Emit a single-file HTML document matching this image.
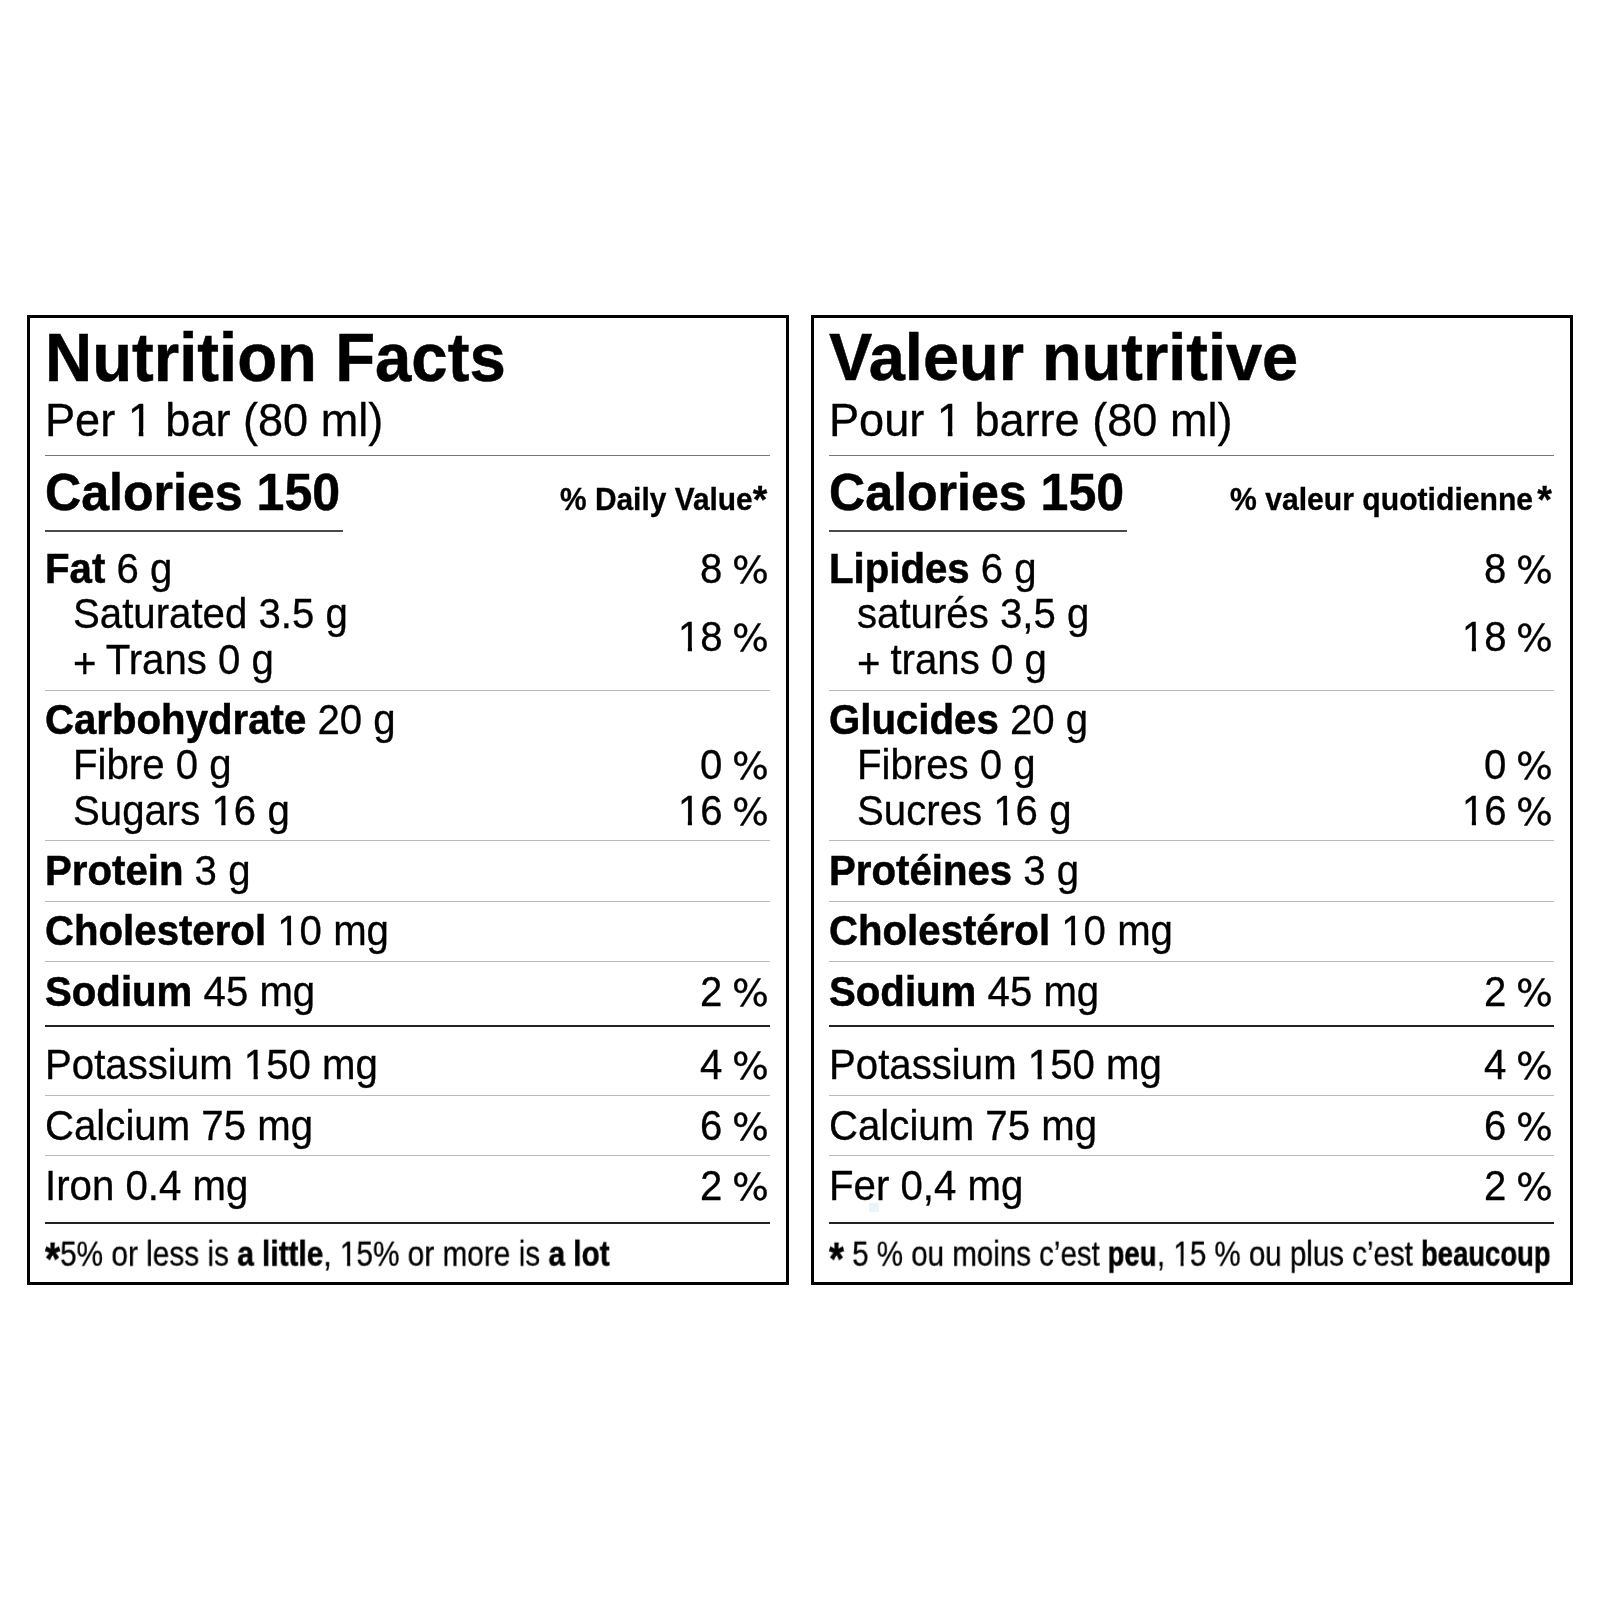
<!DOCTYPE html>
<html><head><meta charset="utf-8"><title>Nutrition Facts / Valeur nutritive</title>
<style>
html,body{margin:0;padding:0;background:#fff;}
body{width:1600px;height:1600px;position:relative;overflow:hidden;font-family:"Liberation Sans",Arial,Helvetica,sans-serif;color:#000;}
.box{position:absolute;box-sizing:border-box;border-style:solid;border-color:#000;}
.l{position:absolute;}
.t{position:absolute;line-height:1;white-space:pre;will-change:transform;-webkit-text-stroke:0.3px #000;}
b{font-weight:700;-webkit-text-stroke:0.5px #000;}
.dva{font-size:1.25em;line-height:0;position:relative;top:3px;}
.pc{font-family:"DejaVu Sans","Liberation Sans",sans-serif;font-size:0.9125em;display:inline-block;transform:scaleX(1.06);transform-origin:100% 50%;}
.cb{display:inline-block;transform:scaleX(0.93);transform-origin:0 0;}
.one{display:inline-block;clip-path:polygon(0 0,100% 0,100% 0.712em,0.347em 0.712em,0.347em 100%,0.245em 100%,0.245em 0.712em,0 0.712em);}
.pl{position:relative;top:4px;margin-right:-1.25px;}
.ast{font-size:1.3em;line-height:0;position:relative;top:8px;}
</style></head><body>
<div class="box" style="left:27px;top:315px;width:762px;height:970px;border-width:3px"></div>
<div class="l" style="left:45px;top:455px;width:725px;height:1px;background:#777"></div>
<div class="l" style="left:45px;top:530px;width:298px;height:2px;background:#4a4a4a"></div>
<div class="l" style="left:45px;top:690px;width:725px;height:1px;background:#bbb"></div>
<div class="l" style="left:45px;top:840px;width:725px;height:1px;background:#bbb"></div>
<div class="l" style="left:45px;top:901px;width:725px;height:1px;background:#bbb"></div>
<div class="l" style="left:45px;top:961px;width:725px;height:1px;background:#bbb"></div>
<div class="l" style="left:45px;top:1025px;width:725px;height:2px;background:#222"></div>
<div class="l" style="left:45px;top:1095px;width:725px;height:1px;background:#bbb"></div>
<div class="l" style="left:45px;top:1155px;width:725px;height:1px;background:#bbb"></div>
<div class="l" style="left:45px;top:1222px;width:725px;height:2px;background:#222"></div>
<div class="t" style="left:45.00px;top:325.62px;font-size:65.3px;font-weight:700;transform:scale(1.0000,1.0400);transform-origin:0 55.28px;"><b>Nutrition Facts</b></div>
<div class="t" style="left:45.00px;top:398.42px;font-size:45.1px;transform:scale(1.0000,1.0400);transform-origin:0 38.18px;">Per <span class="one">1</span> bar (80 ml)</div>
<div class="t" style="left:45.00px;top:467.79px;font-size:50.1px;font-weight:700;transform:scale(1.0000,1.0400);transform-origin:0 42.41px;"><b>Calories 150</b></div>
<div class="t" style="right:832.50px;top:484.99px;font-size:29.9px;font-weight:700;transform:scale(1.0000,1.0600);transform-origin:100% 25.31px;">% Daily Value<span class="dva">*</span></div>
<div class="t" style="left:45.00px;top:549.57px;font-size:40.2px;transform:scale(1.0000,1.0400);transform-origin:0 34.03px;"><b>Fat</b> 6 g</div>
<div class="t" style="right:831.50px;top:549.57px;font-size:40.2px;transform:scale(1.0000,1.0400);transform-origin:100% 34.03px;">8 <span class="pc">%</span></div>
<div class="t" style="left:73.00px;top:594.77px;font-size:40.2px;transform:scale(1.0000,1.0400);transform-origin:0 34.03px;">Saturated 3.5 g</div>
<div class="t" style="left:73.00px;top:640.52px;font-size:40.2px;transform:scale(1.0000,1.0400);transform-origin:0 34.03px;"><span class="pl">+</span> Trans 0 g</div>
<div class="t" style="right:831.50px;top:617.57px;font-size:40.2px;transform:scale(1.0000,1.0400);transform-origin:100% 34.03px;"><span class="one">1</span>8 <span class="pc">%</span></div>
<div class="t" style="left:45.00px;top:701.27px;font-size:40.2px;transform:scale(1.0000,1.0400);transform-origin:0 34.03px;"><b>Carbohydrate</b> 20 g</div>
<div class="t" style="left:73.00px;top:745.52px;font-size:40.2px;transform:scale(1.0000,1.0400);transform-origin:0 34.03px;">Fibre 0 g</div>
<div class="t" style="right:831.50px;top:745.52px;font-size:40.2px;transform:scale(1.0000,1.0400);transform-origin:100% 34.03px;">0 <span class="pc">%</span></div>
<div class="t" style="left:73.00px;top:792.27px;font-size:40.2px;transform:scale(1.0000,1.0400);transform-origin:0 34.03px;">Sugars <span class="one">1</span>6 g</div>
<div class="t" style="right:831.50px;top:792.27px;font-size:40.2px;transform:scale(1.0000,1.0400);transform-origin:100% 34.03px;"><span class="one">1</span>6 <span class="pc">%</span></div>
<div class="t" style="left:45.00px;top:852.27px;font-size:40.2px;transform:scale(1.0000,1.0400);transform-origin:0 34.03px;"><b>Protein</b> 3 g</div>
<div class="t" style="left:45.00px;top:912.27px;font-size:40.2px;transform:scale(1.0000,1.0400);transform-origin:0 34.03px;"><b>Cholesterol</b> <span class="one">1</span>0 mg</div>
<div class="t" style="left:45.00px;top:973.02px;font-size:40.2px;transform:scale(1.0000,1.0400);transform-origin:0 34.03px;"><b>Sodium</b> 45 mg</div>
<div class="t" style="right:831.50px;top:973.02px;font-size:40.2px;transform:scale(1.0000,1.0400);transform-origin:100% 34.03px;">2 <span class="pc">%</span></div>
<div class="t" style="left:45.00px;top:1046.27px;font-size:40.2px;transform:scale(1.0000,1.0400);transform-origin:0 34.03px;">Potassium <span class="one">1</span>50 mg</div>
<div class="t" style="right:831.50px;top:1046.27px;font-size:40.2px;transform:scale(1.0000,1.0400);transform-origin:100% 34.03px;">4 <span class="pc">%</span></div>
<div class="t" style="left:45.00px;top:1106.77px;font-size:40.2px;transform:scale(1.0000,1.0400);transform-origin:0 34.03px;">Calcium 75 mg</div>
<div class="t" style="right:831.50px;top:1106.77px;font-size:40.2px;transform:scale(1.0000,1.0400);transform-origin:100% 34.03px;">6 <span class="pc">%</span></div>
<div class="t" style="left:45.00px;top:1167.27px;font-size:40.2px;transform:scale(1.0000,1.0400);transform-origin:0 34.03px;">Iron 0.4 mg</div>
<div class="t" style="right:831.50px;top:1167.27px;font-size:40.2px;transform:scale(1.0000,1.0400);transform-origin:100% 34.03px;">2 <span class="pc">%</span></div>
<div class="t" style="left:45.00px;top:1237.22px;font-size:34px;transform:scale(0.8760,1.0400);transform-origin:0 28.78px;"><b class="ast">*</b>5% or less is <b>a little</b>, <span class="one">1</span>5% or more is <b>a lot</b></div>
<div class="box" style="left:811px;top:315px;width:762px;height:970px;border-width:3px"></div>
<div class="l" style="left:829px;top:455px;width:725px;height:1px;background:#777"></div>
<div class="l" style="left:829px;top:530px;width:298px;height:2px;background:#4a4a4a"></div>
<div class="l" style="left:829px;top:690px;width:725px;height:1px;background:#bbb"></div>
<div class="l" style="left:829px;top:840px;width:725px;height:1px;background:#bbb"></div>
<div class="l" style="left:829px;top:901px;width:725px;height:1px;background:#bbb"></div>
<div class="l" style="left:829px;top:961px;width:725px;height:1px;background:#bbb"></div>
<div class="l" style="left:829px;top:1025px;width:725px;height:2px;background:#222"></div>
<div class="l" style="left:829px;top:1095px;width:725px;height:1px;background:#bbb"></div>
<div class="l" style="left:829px;top:1155px;width:725px;height:1px;background:#bbb"></div>
<div class="l" style="left:829px;top:1222px;width:725px;height:2px;background:#222"></div>
<div class="t" style="left:829.00px;top:325.92px;font-size:64.95px;font-weight:700;transform:scale(1.0000,1.0400);transform-origin:0 54.98px;"><b>Valeur nutritive</b></div>
<div class="t" style="left:829.00px;top:398.42px;font-size:45.1px;transform:scale(1.0000,1.0400);transform-origin:0 38.18px;">Pour <span class="one">1</span> barre (80 ml)</div>
<div class="t" style="left:829.00px;top:467.79px;font-size:50.1px;font-weight:700;transform:scale(1.0000,1.0400);transform-origin:0 42.41px;"><b>Calories 150</b></div>
<div class="t" style="right:48.50px;top:484.78px;font-size:30.15px;font-weight:700;transform:scale(1.0000,1.0500);transform-origin:100% 25.52px;">% valeur quotidienne<span class="dva" style="margin-left:4px">*</span></div>
<div class="t" style="left:829.00px;top:549.57px;font-size:40.2px;transform:scale(1.0000,1.0400);transform-origin:0 34.03px;"><b>Lipides</b> 6 g</div>
<div class="t" style="right:47.50px;top:549.57px;font-size:40.2px;transform:scale(1.0000,1.0400);transform-origin:100% 34.03px;">8 <span class="pc">%</span></div>
<div class="t" style="left:857.00px;top:594.77px;font-size:40.2px;transform:scale(1.0000,1.0400);transform-origin:0 34.03px;">saturés 3,5 g</div>
<div class="t" style="left:857.00px;top:640.52px;font-size:40.2px;transform:scale(1.0000,1.0400);transform-origin:0 34.03px;"><span class="pl">+</span> trans 0 g</div>
<div class="t" style="right:47.50px;top:617.57px;font-size:40.2px;transform:scale(1.0000,1.0400);transform-origin:100% 34.03px;"><span class="one">1</span>8 <span class="pc">%</span></div>
<div class="t" style="left:829.00px;top:701.27px;font-size:40.2px;transform:scale(1.0000,1.0400);transform-origin:0 34.03px;"><b>Glucides</b> 20 g</div>
<div class="t" style="left:857.00px;top:745.52px;font-size:40.2px;transform:scale(1.0000,1.0400);transform-origin:0 34.03px;">Fibres 0 g</div>
<div class="t" style="right:47.50px;top:745.52px;font-size:40.2px;transform:scale(1.0000,1.0400);transform-origin:100% 34.03px;">0 <span class="pc">%</span></div>
<div class="t" style="left:857.00px;top:792.27px;font-size:40.2px;transform:scale(1.0000,1.0400);transform-origin:0 34.03px;">Sucres <span class="one">1</span>6 g</div>
<div class="t" style="right:47.50px;top:792.27px;font-size:40.2px;transform:scale(1.0000,1.0400);transform-origin:100% 34.03px;"><span class="one">1</span>6 <span class="pc">%</span></div>
<div class="t" style="left:829.00px;top:852.27px;font-size:40.2px;transform:scale(1.0000,1.0400);transform-origin:0 34.03px;"><b>Protéines</b> 3 g</div>
<div class="t" style="left:829.00px;top:912.27px;font-size:40.2px;transform:scale(1.0000,1.0400);transform-origin:0 34.03px;"><b>Cholestérol</b> <span class="one">1</span>0 mg</div>
<div class="t" style="left:829.00px;top:973.02px;font-size:40.2px;transform:scale(1.0000,1.0400);transform-origin:0 34.03px;"><b>Sodium</b> 45 mg</div>
<div class="t" style="right:47.50px;top:973.02px;font-size:40.2px;transform:scale(1.0000,1.0400);transform-origin:100% 34.03px;">2 <span class="pc">%</span></div>
<div class="t" style="left:829.00px;top:1046.27px;font-size:40.2px;transform:scale(1.0000,1.0400);transform-origin:0 34.03px;">Potassium <span class="one">1</span>50 mg</div>
<div class="t" style="right:47.50px;top:1046.27px;font-size:40.2px;transform:scale(1.0000,1.0400);transform-origin:100% 34.03px;">4 <span class="pc">%</span></div>
<div class="t" style="left:829.00px;top:1106.77px;font-size:40.2px;transform:scale(1.0000,1.0400);transform-origin:0 34.03px;">Calcium 75 mg</div>
<div class="t" style="right:47.50px;top:1106.77px;font-size:40.2px;transform:scale(1.0000,1.0400);transform-origin:100% 34.03px;">6 <span class="pc">%</span></div>
<div class="t" style="left:829.00px;top:1167.27px;font-size:40.2px;transform:scale(1.0000,1.0400);transform-origin:0 34.03px;">Fer 0,4 mg</div>
<div class="t" style="right:47.50px;top:1167.27px;font-size:40.2px;transform:scale(1.0000,1.0400);transform-origin:100% 34.03px;">2 <span class="pc">%</span></div>
<div class="t" style="left:829.00px;top:1237.22px;font-size:34px;transform:scale(0.8680,1.0400);transform-origin:0 28.78px;"><b class="ast">*</b> 5 % ou moins c’est <b class="cb" style="margin-right:-4.1px">peu</b>, <span class="one">1</span>5 % ou plus c’est <b class="cb" style="margin-right:-11.1px">beaucoup</b></div>
<div style="position:absolute;left:869px;top:1203px;width:10px;height:9px;background:#eaf5fb"></div>
</body></html>
